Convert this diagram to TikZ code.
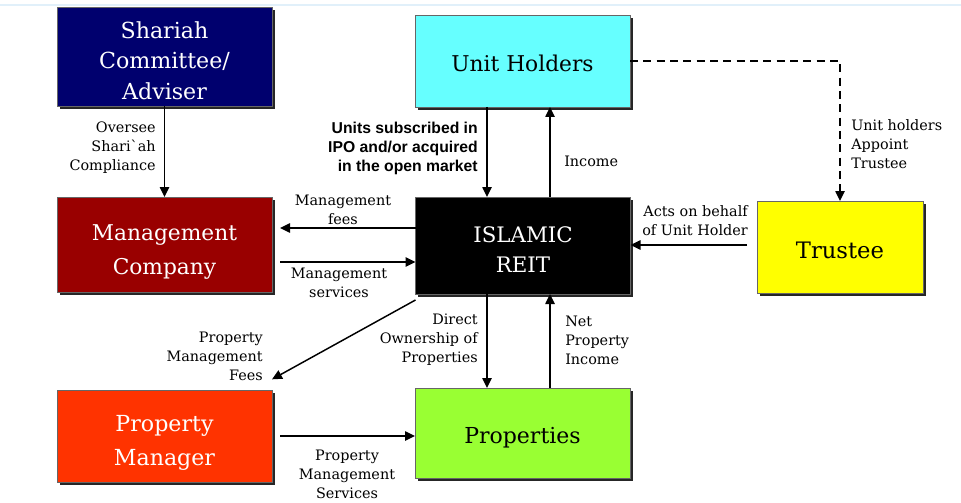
\documentclass[tikz,border=0pt]{standalone}
\usepackage{fontspec}
\setmainfont{DejaVu Serif}
\newfontfamily\boldsans{Liberation Sans}
\usetikzlibrary{arrows.meta,shadows,calc}
\definecolor{navybox}{RGB}{0,0,110}
\definecolor{cyanbox}{RGB}{102,255,255}
\definecolor{redbox}{RGB}{153,0,0}
\definecolor{yellowbox}{RGB}{255,255,0}
\definecolor{orangebox}{RGB}{255,51,0}
\definecolor{greenbox}{RGB}{153,255,51}
\definecolor{faintline}{RGB}{225,240,250}
\newcommand{\tdn}[1]{\rule{0pt}{\dimexpr0.76em+#1\relax}}
\newcommand{\gravechar}{\XeTeXglyph\XeTeXcharglyph"60\relax}
\begin{document}
\begin{tikzpicture}[x=0.75pt,y=-0.75pt,
  box/.style={draw=black!60, line width=0.6pt, inner sep=0pt, outer sep=0pt,
    minimum width=161.25pt, align=center, font=\fontsize{16}{24}\selectfont,
    drop shadow={shadow xshift=2.2pt, shadow yshift=-2.2pt, fill=black!85, opacity=1}},
  arr/.style={-{Triangle[length=7.5pt,width=7pt]}, line width=1.1pt},
  lbl/.style={inner sep=0pt, font=\fontsize{10.8}{14.25}\selectfont},
  blbl/.style={inner sep=0pt, font=\boldsans\bfseries\fontsize{11.8}{14.25}\selectfont}
]
\useasboundingbox (0,0) rectangle (961,503);
\fill[white] (0,0) rectangle (961,503);
\draw[faintline, line width=0.8pt] (0,5) -- (961,5);

% boxes
\node[box, fill=navybox, text=white, minimum height=74.25pt, font=\fontsize{16.6}{23}\selectfont] (shariah) at (164.5,56.5) {\tdn{6pt}Shariah\\Committee/\\Adviser};
\node[box, fill=cyanbox, text=black, minimum height=69pt, font=\fontsize{16.3}{24}\selectfont] (uh) at (522.5,61) {\tdn{3pt}Unit Holders};
\node[box, fill=redbox, text=white, minimum height=71.25pt, font=\fontsize{16.3}{25.5}\selectfont] (mgmt) at (164.5,244.5) {\tdn{10pt}Management\\Company};
\node[box, fill=black, text=white, minimum height=72.75pt, font=\fontsize{16}{23}\selectfont] (reit) at (523,245.5) {\tdn{6pt}ISLAMIC\\REIT};
\node[box, fill=yellowbox, text=black, minimum width=124.5pt, minimum height=69pt, font=\fontsize{17}{24}\selectfont] (trustee) at (840,247) {\tdn{4.5pt}Trustee};
\node[box, fill=orangebox, text=white, minimum height=69pt, font=\fontsize{16.6}{25.5}\selectfont] (pm) at (164.5,436) {\tdn{10pt}Property\\Manager};
\node[box, fill=greenbox, text=black, minimum height=67.5pt, font=\fontsize{16.5}{24}\selectfont] (prop) at (522.5,433) {\tdn{6pt}Properties};

% helper coordinates
\coordinate (xa) at (487,0);
\coordinate (xb) at (550,0);
\coordinate (yfee) at (0,228);
\coordinate (ysrv) at (0,262);
\coordinate (yact) at (0,245);

% connectors
\draw[arr] (shariah.south) -- (mgmt.north);
\draw[arr] (xa |- uh.south) -- (xa |- reit.north);
\draw[arr] (xb |- reit.north) -- (xb |- uh.south);
\draw[arr] (reit.west |- yfee) -- ([xshift=6pt]mgmt.east |- yfee);
\draw[arr] ([xshift=6pt]mgmt.east |- ysrv) -- (reit.west |- ysrv);
\draw[arr] ([xshift=-7.5pt]trustee.west |- yact) -- (reit.east |- yact);
\draw[arr, dash pattern=on 6pt off 4pt] (uh.east) -| (trustee.north);
\draw[arr] ([yshift=-4.5pt]reit.south west) -- ([yshift=8pt]pm.north east);
\draw[arr] (xa |- reit.south) -- (xa |- prop.north);
\draw[arr] (xb |- prop.north) -- (xb |- reit.south);
\draw[arr] ([xshift=6pt]pm.east) -- (prop.west |- pm.east);

% labels
\node[lbl, anchor=east, align=right] (l1) at (156,148) {Oversee\\Shari\gravechar ah\\Compliance};
\node[blbl, anchor=east, align=right] (l2) at (478,148) {Units subscribed in\\IPO and/or acquired\\in the open market};
\node[lbl, anchor=west] (l3) at (564,161) {Income};
\node[lbl, align=center] (l4) at (343,210) {Management\\fees};
\node[lbl, align=center] (l5) at (339,283) {Management\\services};
\node[lbl, anchor=east, align=right] (l6) at (748,221) {Acts on behalf\\of Unit Holder};
\node[lbl, anchor=west, align=left] (l7) at (851,144) {Unit holders\\Appoint\\Trustee};
\node[lbl, anchor=east, align=right] (l8) at (263,356) {Property\\Management\\Fees};
\node[lbl, anchor=east, align=right] (l9) at (478,340) {Direct\\Ownership of\\Properties};
\node[lbl, anchor=west, align=left] (l10) at (565,340) {Net\\Property\\Income};
\node[lbl, align=center] (l11) at (347,474) {Property\\Management\\Services};
\end{tikzpicture}
\end{document}
